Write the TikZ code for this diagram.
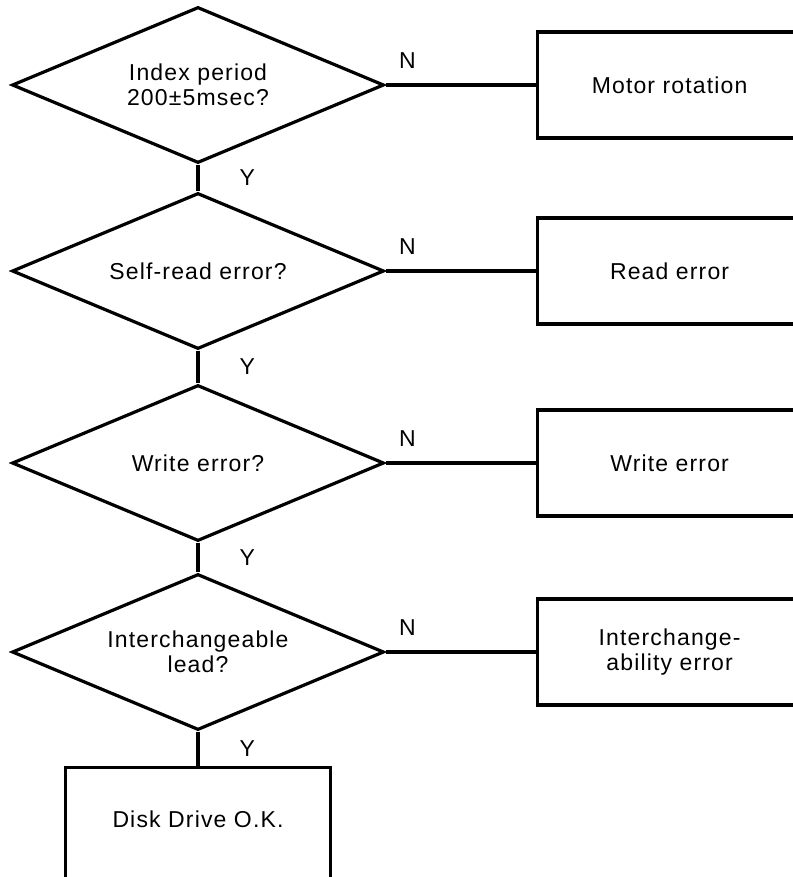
\documentclass[tikz,border=0pt]{standalone}
\usepackage{fontspec}
\setmainfont{Liberation Sans}[LetterSpace=5]
\usetikzlibrary{shapes.geometric, positioning}

\begin{document}
\begin{tikzpicture}[x=0.5pt, y=-0.5pt, line width=1.6pt,
    every node/.style={font=\fontsize{11.5}{12.5}\selectfont},
    decision/.style={diamond, draw, aspect=2.4, inner sep=0pt, minimum width=186pt, minimum height=78pt, align=center},
    outcome/.style={rectangle, draw, minimum width=132pt, minimum height=53pt, align=center},
    yes/.style={right=20pt, inner sep=0pt},
    no/.style={pos=0, anchor=south west, inner sep=0pt, xshift=6pt, yshift=7.5pt}]
    \useasboundingbox (0,0) rectangle (792,877);

    % Decisions
    \node[decision] at (198,85) (index) {Index period\\200±5msec?};
    \node[decision] at (198,271) (selfread) {Self-read error?};
    \node[decision] at (198,463) (write) {Write error?};
    \node[decision] at (198,652) (interch) {Interchangeable\\lead?};

    % Error boxes
    \node[outcome, anchor=west] at (536,85) (motor) {Motor rotation};
    \node[outcome, anchor=west] at (536,271) (readerr) {Read error};
    \node[outcome, anchor=west] at (536,463) (writeerr) {Write error};
    \node[outcome, anchor=west] at (536,652) (interr) {Interchange-\\ability error};
    \node[outcome, anchor=north, minimum width=132.5pt, inner ysep=22pt, text height=8pt, text depth=40pt] at (198,766) (diskok) {Disk Drive O.K.};

    % Y branches
    \draw (index.south) -- node[yes] {Y} (selfread.north);
    \draw (selfread.south) -- node[yes] {Y} (write.north);
    \draw (write.south) -- node[yes] {Y} (interch.north);
    \draw (interch.south) -- node[yes] {Y} (diskok.north);

    % N branches
    \draw (index.east) -- node[no] {N} (motor.west);
    \draw (selfread.east) -- node[no] {N} (readerr.west);
    \draw (write.east) -- node[no] {N} (writeerr.west);
    \draw (interch.east) -- node[no] {N} (interr.west);
\end{tikzpicture}
\end{document}
